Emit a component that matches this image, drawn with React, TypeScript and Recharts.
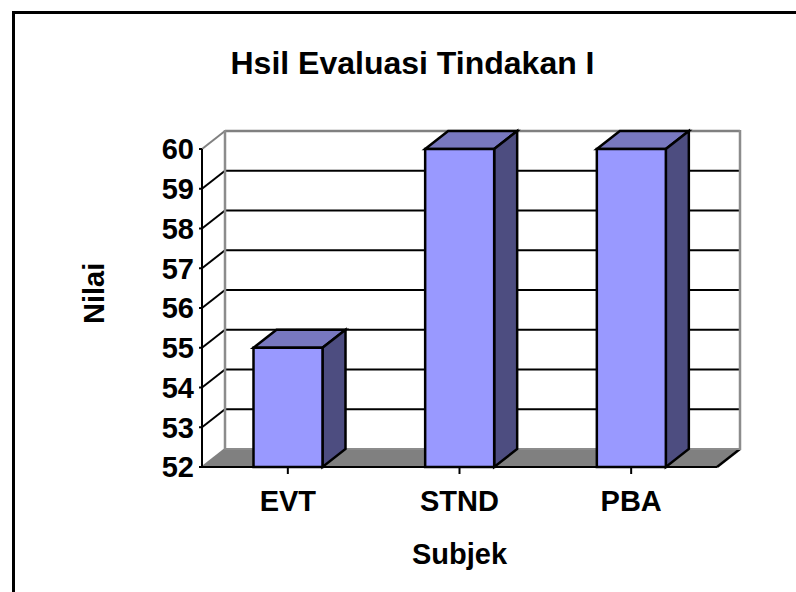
import React from 'react';
import { BarChart, Bar, XAxis, YAxis, CartesianGrid } from 'recharts';

const CATEGORIES = ['EVT', 'STND', 'PBA'];
const NILAI = [55, 60, 60];
const Y_TICKS = [52, 53, 54, 55, 56, 57, 58, 59, 60];

const DX = 23;
const DY = -18;
const FONT = '"Liberation Sans", Arial, sans-serif';

const data = CATEGORIES.map((subjek, i) => ({ subjek, nilai: NILAI[i] }));

// one 3D column: front, top and side faces
const Column3D = (props: any) => {
  const { x, y, width, height } = props;
  const r = x + width;
  const b = y + height;
  return (
    <g stroke="#000" strokeWidth={2.5} strokeLinejoin="miter">
      <polygon points={`${x},${y} ${x + DX},${y + DY} ${r + DX},${y + DY} ${r},${y}`} fill="#7878BF" />
      <polygon points={`${r},${y} ${r + DX},${y + DY} ${r + DX},${b + DY} ${r},${b}`} fill="#4D4D80" />
      <rect x={x} y={y} width={width} height={height} fill="#9999FF" />
    </g>
  );
};

// back wall, side wall and floor are hung on the grid lines
const GridLine3D = (props: any) => {
  const { x1, x2, y1, index } = props;
  const y = y1;
  const isBottom = index === 0;
  const isTop = index === Y_TICKS.length - 1;
  if (isBottom) {
    return (
      <g>
        <polygon
          points={`${x1},${y} ${x2},${y} ${x2 + DX},${y + DY} ${x1 + DX},${y + DY}`}
          fill="#808080"
          stroke="none"
        />
        <line x1={x1} y1={y} x2={x1 + DX} y2={y + DY} stroke="#808080" strokeWidth={2} />
        <line x1={x2} y1={y} x2={x2 + DX} y2={y + DY} stroke="#000" strokeWidth={2.5} />
        <line x1={x1 + DX} y1={y + DY} x2={x2 + DX} y2={y + DY} stroke="#8c8c8c" strokeWidth={2} />
      </g>
    );
  }
  const color = isTop ? '#808080' : '#000';
  return (
    <g>
      <line x1={x1} y1={y} x2={x1 + DX} y2={y + DY} stroke={color} strokeWidth={2} />
      <line x1={x1 + DX} y1={y + DY} x2={x2 + DX} y2={y + DY} stroke={color} strokeWidth={isTop ? 2.5 : 2} />
      {isTop && (
        <g stroke="#8c8c8c" strokeWidth={2.5}>
          <line x1={x1 + DX} y1={y + DY - 1} x2={x1 + DX} y2={y + DY + 319} />
          <line x1={x2 + DX} y1={y + DY - 1} x2={x2 + DX} y2={y + DY + 319} />
        </g>
      )}
    </g>
  );
};

const App: React.FC = () => {
  return (
    <div style={{ position: 'fixed', left: 0, top: 0, width: 796, height: 592, background: '#fff', overflow: 'hidden' }}>
      <div style={{ position: 'absolute', left: 12, top: 11, width: 784, height: 3, background: '#000' }} />
      <div style={{ position: 'absolute', left: 12, top: 11, width: 3, height: 581, background: '#000' }} />
      <div
        style={{
          position: 'absolute',
          left: 13,
          width: 799,
          top: 45,
          textAlign: 'center',
          fontFamily: FONT,
          fontWeight: 700,
          fontSize: 32,
          color: '#000',
        }}
      >
        Hsil Evaluasi Tindakan I
      </div>
      <div style={{ position: 'absolute', left: 0, top: 0 }}>
        <BarChart
          width={796}
          height={592}
          data={data}
          margin={{ top: 149, right: 79, bottom: 95, left: 82 }}
          barCategoryGap="30%"
        >
          <CartesianGrid vertical={false} horizontal={(p: any) => <GridLine3D key={p.index} {...p} />} />
          <XAxis
            dataKey="subjek"
            interval={0}
            tickSize={7}
            tickMargin={16}
            stroke="#000"
            strokeWidth={2}
            tick={{ fill: '#000', fontFamily: FONT, fontWeight: 700, fontSize: 29 }}
            label={{
              value: 'Subjek',
              position: 'insideBottom',
              offset: -67,
              fill: '#000',
              fontFamily: FONT,
              fontWeight: 700,
              fontSize: 29,
            }}
          />
          <YAxis
            width={120}
            domain={[52, 60]}
            ticks={Y_TICKS}
            interval={0}
            tickSize={3}
            tickMargin={5}
            stroke="#000"
            strokeWidth={2}
            tick={{ fill: '#000', fontFamily: FONT, fontWeight: 700, fontSize: 29 }}
            label={{
              value: 'Nilai',
              angle: -90,
              position: 'insideLeft',
              offset: 0,
              dx: 12,
              dy: 16,
              fill: '#000',
              fontFamily: FONT,
              fontWeight: 700,
              fontSize: 29,
            }}
          />
          <Bar dataKey="nilai" isAnimationActive={false} shape={<Column3D />} />
        </BarChart>
      </div>
    </div>
  );
};

export default App;
